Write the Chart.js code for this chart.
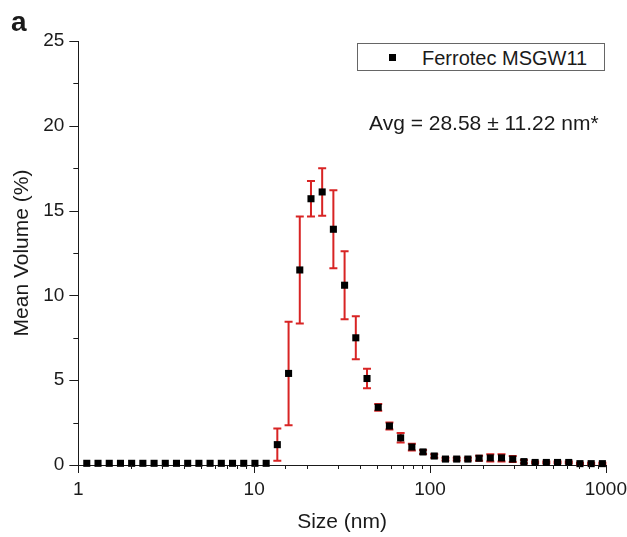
<!DOCTYPE html>
<html>
<head>
<meta charset="utf-8">
<script src="https://cdn.jsdelivr.net/npm/chart.js@4.4.0/dist/chart.umd.min.js"></script>
<style>
  body { margin: 0; background: #fff; }
  #wrap { position: relative; width: 627px; height: 537px; font-family: 'Liberation Sans', Arial, sans-serif; color: #1a1a1a; }
  #chart { position: absolute; left: 0; top: 0; }
  #panel { position: absolute; left: 11px; top: 8px; font-size: 28px; font-weight: bold; line-height: 28px; }
  #legend { position: absolute; left: 357px; top: 43px; width: 246px; height: 26px; border: 1px solid #666; background: #fff; }
  #legend .mark { position: absolute; left: 31px; top: 10px; width: 7px; height: 7px; background: #000; }
  #legend .lbl { position: absolute; left: 64px; top: 4px; font-size: 20px; line-height: 20px; white-space: nowrap; }
  #avg { position: absolute; left: 369px; top: 112px; font-size: 21px; line-height: 21px; white-space: nowrap; }
</style>
</head>
<body>
<div id="wrap">
  <canvas id="chart" width="627" height="537"></canvas>
  <div id="panel">a</div>
  <div id="legend"><span class="mark"></span><span class="lbl">Ferrotec MSGW11</span></div>
  <div id="avg">Avg = 28.58 ± 11.22 nm*</div>
</div>
<script>
// Size bins (nm), log spaced
const sizes = [1.117, 1.294, 1.499, 1.736, 2.010, 2.328, 2.696, 3.122, 3.615, 4.187, 4.849, 5.615,
  6.503, 7.531, 8.721, 10.10, 11.70, 13.54, 15.69, 18.17, 21.04, 24.36, 28.21, 32.67, 37.84, 43.82,
  50.75, 58.77, 68.06, 78.82, 91.28, 105.7, 122.4, 141.8, 164.2, 190.1, 220.2, 255.0, 295.3, 342.0,
  396.1, 458.7, 531.2, 615.1, 712.4, 825.0, 955.4];

// Mean volume (%)
const volumes = [0.1, 0.1, 0.1, 0.1, 0.1, 0.1, 0.1, 0.1, 0.1, 0.1, 0.1, 0.1,
  0.1, 0.1, 0.1, 0.1, 0.1, 1.2, 5.4, 11.5, 15.7, 16.1, 13.9, 10.6, 7.5, 5.1,
  3.4, 2.3, 1.6, 1.06, 0.77, 0.53, 0.35, 0.35, 0.35, 0.4, 0.42, 0.42, 0.35, 0.2,
  0.15, 0.15, 0.15, 0.15, 0.08, 0.08, 0.08];

// Standard deviation (%)
const errors = [0, 0, 0, 0, 0, 0, 0, 0, 0, 0, 0, 0,
  0, 0, 0, 0, 0, 0.95, 3.05, 3.15, 1.05, 1.4, 2.3, 2.0, 1.27, 0.58,
  0.2, 0.2, 0.28, 0.2, 0.12, 0.1, 0.08, 0.08, 0.08, 0.15, 0.22, 0.22, 0.18, 0.1,
  0.05, 0.05, 0.05, 0.05, 0.05, 0.05, 0.05];

const xTickLabels = [1, 10, 100, 1000];
const yTickLabels = [0, 5, 10, 15, 20, 25];

const FONT = "'Liberation Sans', Arial, sans-serif";
const INK = '#1a1a1a';

const isDecade = v => Math.abs(Math.log10(v) - Math.round(Math.log10(v))) < 1e-9;

// red error bars with caps, drawn under the squares
const errorBarPlugin = {
  id: 'errorBars',
  beforeDatasetsDraw(chart) {
    const { ctx, scales: { x, y } } = chart;
    ctx.save();
    ctx.strokeStyle = '#d82424';
    ctx.lineWidth = 2;
    sizes.forEach((s, i) => {
      if (!errors[i]) return;
      const px = x.getPixelForValue(s);
      const top = y.getPixelForValue(volumes[i] + errors[i]);
      const bot = y.getPixelForValue(Math.max(0, volumes[i] - errors[i]));
      ctx.beginPath();
      ctx.moveTo(px, top); ctx.lineTo(px, bot);
      ctx.moveTo(px - 4, top); ctx.lineTo(px + 4, top);
      ctx.moveTo(px - 4, bot); ctx.lineTo(px + 4, bot);
      ctx.stroke();
    });
    ctx.restore();
  }
};

// outward tick marks, long for labelled ticks, short for minor ones
const tickMarkPlugin = {
  id: 'tickMarks',
  afterDraw(chart) {
    const { ctx, chartArea, scales: { x, y } } = chart;
    ctx.save();
    ctx.strokeStyle = INK;
    ctx.lineWidth = 1;
    ctx.beginPath();
    y.ticks.forEach(t => {
      const py = Math.round(y.getPixelForValue(t.value)) + 0.5;
      const len = yTickLabels.includes(t.value) ? 9 : 5;
      ctx.moveTo(chartArea.left - len, py); ctx.lineTo(chartArea.left, py);
    });
    x.ticks.forEach(t => {
      const px = Math.round(x.getPixelForValue(t.value)) + 0.5;
      const len = isDecade(t.value) ? 8 : 4;
      ctx.moveTo(px, chartArea.bottom); ctx.lineTo(px, chartArea.bottom + len);
    });
    ctx.stroke();
    ctx.restore();
  }
};

// invisible built-in ticks only reserve the gap between axis and labels
const hiddenGrid = len => ({
  display: true,
  drawOnChartArea: false,
  drawTicks: true,
  tickLength: len,
  tickColor: 'rgba(0,0,0,0)'
});

new Chart(document.getElementById('chart'), {
  type: 'scatter',
  data: {
    datasets: [{
      label: 'Ferrotec MSGW11',
      data: sizes.map((s, i) => ({ x: s, y: volumes[i] })),
      pointStyle: 'rect',
      pointRadius: 5,
      backgroundColor: '#000',
      borderWidth: 0,
      clip: false
    }]
  },
  options: {
    responsive: false,
    animation: false,
    layout: { autoPadding: false, padding: { top: 41, left: 10, right: 0, bottom: 1 } },
    plugins: { legend: { display: false }, tooltip: { enabled: false } },
    scales: {
      x: {
        type: 'logarithmic',
        min: 1,
        max: 1000,
        grid: hiddenGrid(13),
        border: { display: true, color: INK, width: 1 },
        ticks: {
          autoSkip: false,
          maxRotation: 0,
          padding: 0,
          color: INK,
          font: { size: 19, family: FONT },
          callback: v => (xTickLabels.includes(v) ? String(v) : '')
        },
        title: {
          display: true,
          text: 'Size (nm)',
          color: INK,
          font: { size: 21, family: FONT },
          padding: { top: 8.6, bottom: 1.4 }
        }
      },
      y: {
        min: 0,
        max: 25,
        grid: hiddenGrid(14),
        border: { display: true, color: INK, width: 1 },
        ticks: {
          stepSize: 2.5,
          padding: 0,
          color: INK,
          font: { size: 19, family: FONT },
          callback: v => (yTickLabels.includes(v) ? String(v) : '')
        },
        title: {
          display: true,
          text: 'Mean Volume (%)',
          color: INK,
          font: { size: 21, family: FONT },
          padding: { top: 0, bottom: 8 }
        }
      }
    }
  },
  plugins: [errorBarPlugin, tickMarkPlugin]
});
</script>
</body>
</html>
